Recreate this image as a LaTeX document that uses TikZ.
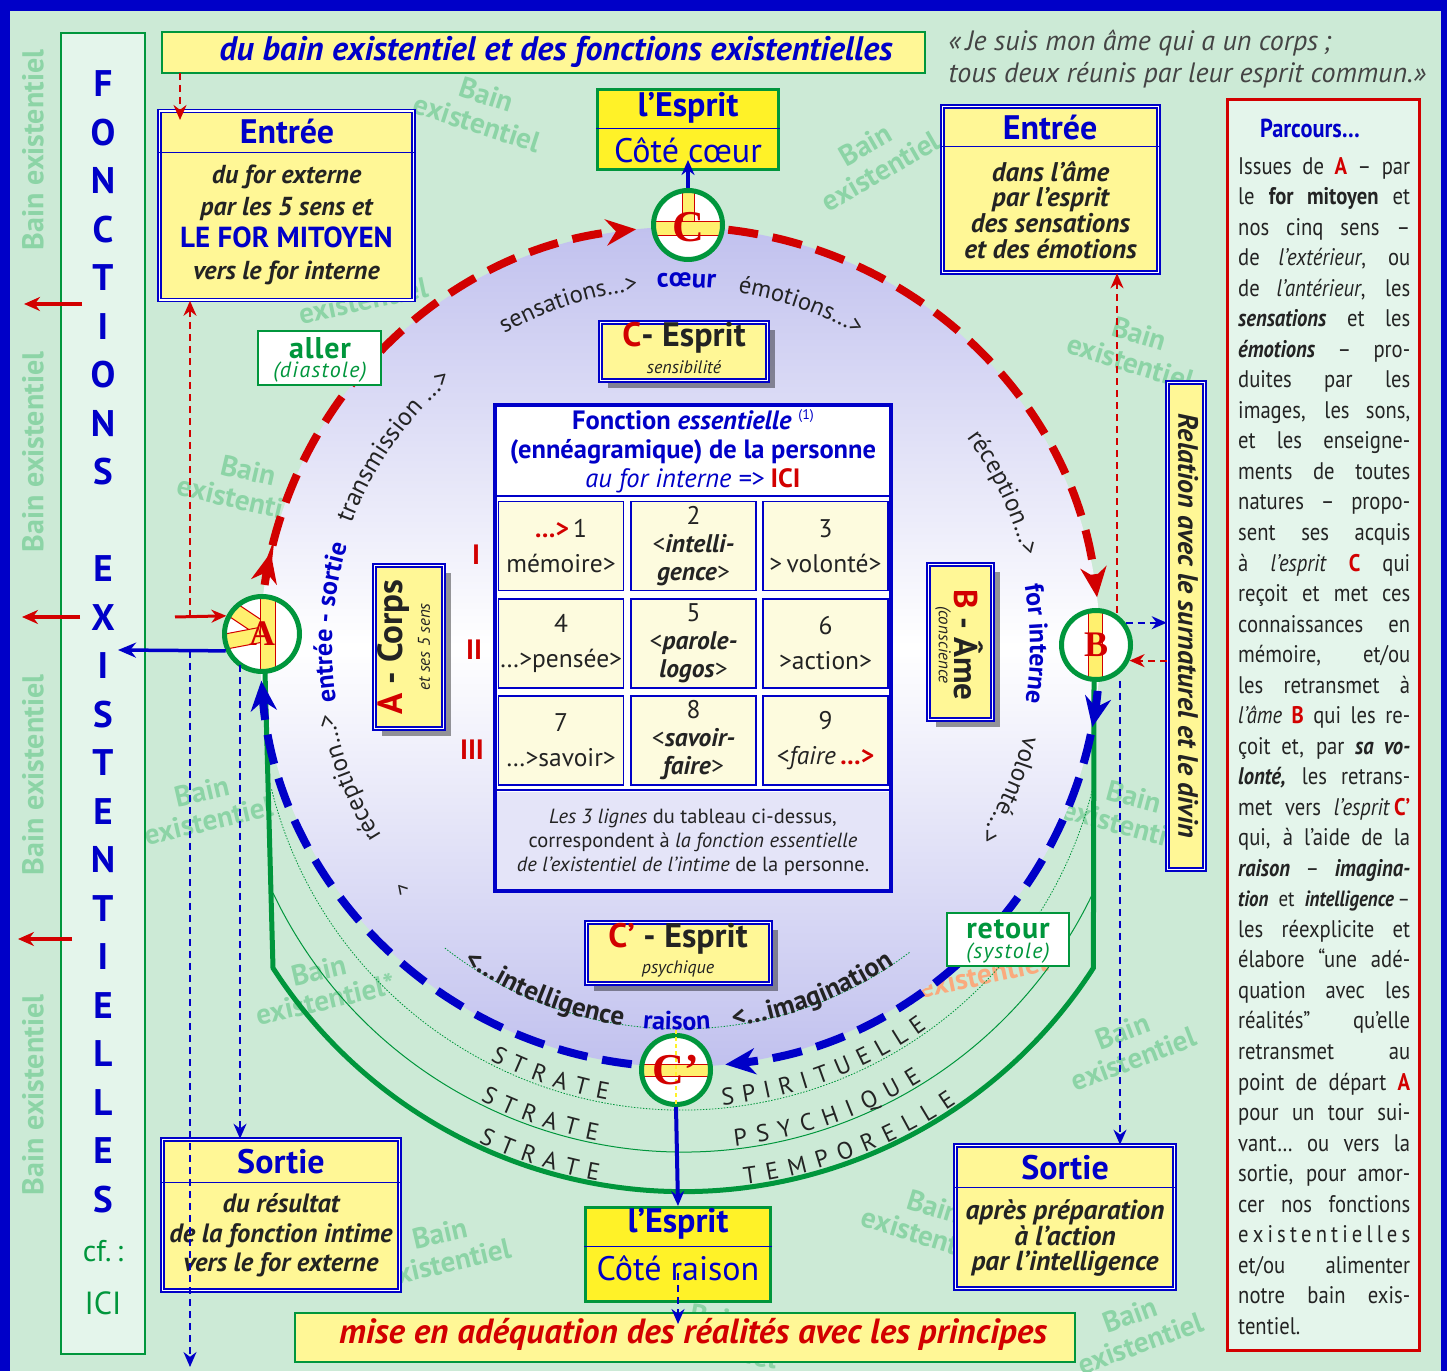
\documentclass[tikz,border=0pt]{standalone}
\usepackage{fontspec}
\setmainfont{PT Sans}
\newfontfamily\serifrouge{Liberation Serif}
\newfontfamily\etroite{PT Sans}[FakeStretch=0.86]
\usetikzlibrary{arrows.meta,calc,decorations.text,shadows}

\definecolor{bleu}{RGB}{0,0,200}
\definecolor{fond}{RGB}{204,234,214}
\definecolor{colclair}{RGB}{228,245,235}
\definecolor{jaune}{RGB}{255,247,150}
\definecolor{jaunevif}{RGB}{255,242,40}
\definecolor{jaunebarre}{RGB}{255,240,110}
\definecolor{rouge}{RGB}{210,0,0}
\definecolor{vert}{RGB}{0,150,60}
\definecolor{filig}{RGB}{140,212,166}
\definecolor{saumon}{RGB}{250,170,125}
\definecolor{lavande}{RGB}{192,192,238}
\definecolor{encre}{RGB}{35,35,35}
\definecolor{case}{RGB}{253,251,222}
\definecolor{pied}{RGB}{228,228,248}

\newcommand\fs[2]{\fontsize{#1}{#2}\selectfont}
\newcommand\pl[1]{\makebox[172pt][s]{#1}\\}

\tikzset{
  cadre/.style={draw=bleu, line width=1.6pt, double=white, double distance=1.6pt, fill=jaune, inner sep=0pt},
  esprit/.style={draw=vert, line width=3pt, fill=jaunevif, inner sep=0pt},
  etiquette/.style={draw=vert, line width=1.5pt, fill=white, inner sep=0pt},
  bandeau/.style={draw=vert, line width=1.5pt, fill=jaune, inner sep=0pt},
  ombre/.style={drop shadow={shadow xshift=7pt, shadow yshift=-8pt, opacity=.4, fill=black}},
  pole/.style={circle, draw=vert, line width=5pt, fill=white, inner sep=0pt},
  barre/.style={fill=jaunebarre, draw=rouge, line width=1pt},
  lettre/.style={text=rouge, font=\serifrouge\bfseries\fs{40}{40}},
  lettrecol/.style={text=bleu, font=\fs{37}{37}\bfseries},
  entete/.style={text=bleu, font=\fs{34}{34}\bfseries},
  corps/.style={text=encre, align=center, font=\fs{26}{32}\bfseries\itshape},
  filigrane/.style={text=filig, align=center, font=\fs{29}{30}\bfseries},
  cellule/.style={draw=bleu, line width=1.5pt, fill=case, minimum width=125, minimum height=89, inner sep=0pt},
  texcase/.style={text=encre, align=center, font=\fs{25.5}{35}},
  arcrouge/.style={draw=rouge, line width=8pt, dash pattern=on 30pt off 15pt},
  arcbleu/.style={draw=bleu, line width=8pt, dash pattern=on 30pt off 15pt},
  grossepointe/.style={-{Stealth[length=30pt,width=26pt]}},
  pointe/.style={-{Stealth[length=15pt,width=13pt]}},
  tirets/.style={line width=2pt, dash pattern=on 7pt off 5pt},
}

\begin{document}
\begin{tikzpicture}[x=1pt,y=1pt]
\useasboundingbox (0,0) rectangle (1447,1371);

% fond et cadre
\fill[fond] (0,0) rectangle (1447,1371);
\fill[bleu] (0,1360) rectangle (1447,1371);
\fill[bleu] (0,0) rectangle (10,1371);
\fill[bleu] (1441,0) rectangle (1447,1371);

% filigranes
\foreach \x/\y/\r in {482/1262/-18, 873/1213/30, 1135/1023/-17, 245/886/-13,
  205/565/13, 443/123/13, 1128/326/21, 1130/560/-15, 930/150/-17,
  1135/42/20, 715/38/-10, 360/1085/12}
  \node[filigrane, rotate=\r] at (\x,\y) {Bain\\existentiel};
\node[filigrane, rotate=13] at (322,386) {Bain\\existentiel*};
\node[filigrane, text=saumon, rotate=12] at (985,412) {Bain\\existentiel*};
\foreach \y in {1221,919,596,276}
  \node[filigrane, rotate=90, font=\fs{30}{30}\bfseries] at (33,\y) {Bain existentiel};

% colonne de gauche
\node[draw=vert, line width=2pt, fill=colclair, minimum width=84, minimum height=1321, inner sep=0pt] (colonne) at (103,677.5) {};
\foreach \l [count=\i from 0] in {F,O,N,C,T,I,O,N,S,{},E,X,I,S,T,E,N,T,I,E,L,L,E,S}
  \node[lettrecol] at (103,{1287-48.5*\i}) {\l};
\node[text=vert, font=\fs{30}{30}] (cf) at (103,120) {cf.\,:};
\node[text=vert, font=\fs{32}{32}] (ici) at (103,68) {ICI};
\foreach \y/\a/\b in {1067/82/24, 754/80/22, 432/72/18}
  \draw[rouge, line width=4pt, -{Stealth[length=16pt,width=14pt]}] (\a,\y) -- (\b,\y);

% disque central
\coordinate (ctr) at (680,724);
\begin{scope}
  \clip (ctr) circle (420);
  \shade[top color=lavande, bottom color=lavande, middle color=white] (250,300) rectangle (1110,1150);
\end{scope}

% strates
\coordinate (sp) at (682,684);
\coordinate (ps) at (683,673);
\coordinate (tp) at (683,667);
\draw[vert, line width=.8pt, dash pattern=on 1.5pt off 1.5pt] ([shift={(194:423)}]sp) arc (194:346:423);
\draw[vert, line width=1pt] ([shift={(205.4:454)}]ps) arc (205.4:334.6:454);
\draw[vert, line width=5pt] (265,699) -- (273,403) arc (212.8:327.2:488) -- (1094,689);
\path[decorate, decoration={text along path, text align=fit to path, text color=encre, text={|\fs{24}{24}|STRATE}}] ([shift={(242.8:420)}]sp) arc (242.8:259.8:420);
\path[decorate, decoration={text along path, text align=fit to path, text color=encre, text={|\fs{24}{24}|SPIRITUELLE}}] ([shift={(275.5:420)}]sp) arc (275.5:305.7:420);
\path[decorate, decoration={text along path, text align=fit to path, text color=encre, text={|\fs{24}{24}|STRATE}}] ([shift={(243.3:451)}]ps) arc (243.3:259:451);
\path[decorate, decoration={text along path, text align=fit to path, text color=encre, text={|\fs{24}{24}|PSYCHIQUE}}] ([shift={(276.6:451)}]ps) arc (276.6:302:451);
\path[decorate, decoration={text along path, text align=fit to path, text color=encre, text={|\fs{24}{24}|STRATE}}] ([shift={(245:484)}]tp) arc (245:259.9:484);
\path[decorate, decoration={text along path, text align=fit to path, text color=encre, text={|\fs{24}{24}|TEMPORELLE}}] ([shift={(277.3:484)}]tp) arc (277.3:304.4:484);

% textes le long du cercle
\draw[vert, line width=.8pt, dash pattern=on 1.5pt off 1.5pt] ([shift={(232:382)}]ctr) arc (232:307:382);
\path[decorate, decoration={text along path, text align=center, text color=encre, text={|\fs{24.5}{24}|sensations…>}}] ([shift={(128:359)}]ctr) arc (128:88:359);
\path[decorate, decoration={text along path, text align=center, text color=bleu, text={|\fs{27}{27}\bfseries|cœur}}] ([shift={(97:360)}]ctr) arc (97:81:360);
\path[decorate, decoration={text along path, text align=center, text color=encre, text={|\fs{24.5}{24}|émotions…>}}] ([shift={(90:359)}]ctr) arc (90:51:359);
\path[decorate, decoration={text along path, text align=center, text color=encre, text={|\fs{25.5}{25}|transmission …>}}] ([shift={(164:351)}]ctr) arc (164:126:351);
\path[decorate, decoration={text along path, text align=center, text color=encre, text={|\fs{25}{25}|réception…>}}] ([shift={(45:355)}]ctr) arc (45:6:355);
\path[decorate, decoration={text along path, text align=center, text color=bleu, text={|\fs{26}{26}\bfseries|for interne}}] ([shift={(20:350)}]ctr) arc (20:-19:350);
\path[decorate, decoration={text along path, text align=center, text color=encre, text={|\fs{25}{25}|volonté…>}}] ([shift={(-4:355)}]ctr) arc (-4:-43:355);
\path[decorate, decoration={text along path, text align=center, text color=encre, text={|\fs{25}{25}|réception…>}}] ([shift={(221:353)}]ctr) arc (221:182:353);
\path[decorate, decoration={text along path, text align=center, text color=bleu, text={|\fs{26}{26}\bfseries|entrée - sortie}}] ([shift={(196:348)}]ctr) arc (196:156:348);
\path[decorate, decoration={text along path, text align=center, text color=encre, text={|\fs{27}{27}\bfseries|<…intelligence}}] ([shift={(228:383)}]ctr) arc (228:269:383);
\path[decorate, decoration={text along path, text align=center, text color=bleu, text={|\fs{26}{26}\bfseries|raison}}] ([shift={(262:383)}]ctr) arc (262:277:383);
\path[decorate, decoration={text along path, text align=center, text color=encre, text={|\fs{27}{27}\bfseries|<…imagination}}] ([shift={(271:383)}]ctr) arc (271:311:383);
\node[text=encre, font=\fs{22}{22}, rotate=131] (retourmark) at ([shift={(221:368)}]ctr) {>};

% parcours du cercle
\draw[rouge, line width=8pt, grossepointe] ([shift={(171.5:420)}]ctr) arc (171.5:167:420);
\draw[arcrouge, grossepointe] ([shift={(166:420)}]ctr) arc (166:96:420);
\draw[arcrouge, grossepointe] ([shift={(83.4:420)}]ctr) arc (83.4:6.8:420);
\draw[bleu, line width=8pt, grossepointe] ([shift={(-6:420)}]ctr) arc (-6:-11:420);
\draw[arcbleu, grossepointe] ([shift={(-12:420)}]ctr) arc (-12:-83.8:420);
\draw[arcbleu, grossepointe] ([shift={(263.4:420)}]ctr) arc (263.4:184.6:420);

% tableau central
\node[draw=bleu, line width=4pt, fill=white, minimum width=396, minimum height=486, inner sep=0pt] (tableau) at (693,723) {};
\fill[pied] (497,482) rectangle (889,579);
\draw[bleu, line width=1.5pt] (tableau.west |- 0,875) -- (tableau.east |- 0,875);
\draw[bleu, line width=1.5pt] (tableau.west |- 0,581) -- (tableau.east |- 0,581);
\foreach \n/\x/\y in {1/561/825, 2/693.5/825, 3/825.5/825, 4/561/727.5, 5/693.5/727.5,
  6/825.5/727.5, 7/561/630.5, 8/693.5/630.5, 9/825.5/630.5}
  \node[cellule] (c\n) at (\x,\y) {};
\node[text=bleu, align=center, font=\fs{26.5}{29}\bfseries] (fonction) at (693,920)
  {Fonction \textit{essentielle} \raisebox{10pt}{\mdseries\fs{14}{14}(1)}\\(ennéagramique) de la personne\\{\mdseries\itshape au for interne =>} {\color{rouge}ICI}};
\node[texcase] at (c1) {\textcolor{rouge}{\textbf{…>}}\,1\\mémoire>};
\node[texcase, font=\fs{25.5}{28}] at (c2) {2\\<\textbf{\textit{intelli-}}\\\textbf{\textit{gence}}>};
\node[texcase] at (c3) {3\\>\,volonté>};
\node[texcase] at (c4) {4\\…>pensée>};
\node[texcase, font=\fs{25.5}{28}] at (c5) {5\\<\textbf{\textit{parole-}}\\\textbf{\textit{logos}}>};
\node[texcase] at (c6) {6\\>action>};
\node[texcase] at (c7) {7\\…>savoir>};
\node[texcase, font=\fs{25.5}{28}] at (c8) {8\\<\textbf{\textit{savoir-}}\\\textbf{\textit{faire}}>};
\node[texcase] at (c9) {9\\<\textit{faire}\,\textcolor{rouge}{\textbf{…>}}};
\node[text=encre, align=center, font=\fs{20.5}{24}] (piedtab) at (693,529)
  {\textit{Les 3 lignes} du tableau ci-dessus,\\correspondent à \textit{la fonction essentielle}\\\textit{de l’existentiel de l’intime} de la personne.};
\node[text=rouge, font=\fs{28}{28}\bfseries] (ligne1) at (476,816) {I};
\node[text=rouge, font=\fs{28}{28}\bfseries] (ligne2) at (474,721) {II};
\node[text=rouge, font=\fs{28}{28}\bfseries] (ligne3) at (472,621) {III};

% boites du disque
\node[cadre, ombre, minimum width=167, minimum height=58] (espritCs) at (684,1019.5) {};
\node[text=encre, font=\fs{34}{34}\bfseries] at (684,1033) {\textcolor{rouge}{C}- Esprit};
\node[text=encre, font=\fs{18}{18}\itshape] at (684,1004) {sensibilité};
\node[cadre, ombre, minimum width=184, minimum height=61] (espritCp) at (678.5,418) {};
\node[text=encre, font=\fs{34}{34}\bfseries] at (678,432) {\textcolor{rouge}{C’} - Esprit};
\node[text=encre, font=\fs{18}{18}\itshape] at (678,402) {psychique};
\node[cadre, ombre, minimum width=69, minimum height=163] (corps) at (409,724) {};
\node[rotate=90, text=encre, font=\fs{35}{35}\bfseries] at (393,724) {\textcolor{rouge}{A} - Corps};
\node[rotate=90, text=encre, font=\fs{17}{17}\itshape] at (424,724) {et ses 5 sens};
\node[cadre, ombre, minimum width=64, minimum height=155] (ame) at (960.5,729) {};
\node[rotate=-90, text=encre, font=\fs{33}{33}\bfseries] at (969,726) {\textcolor{rouge}{B} - Âme};
\node[rotate=-90, text=encre, font=\fs{17}{17}\itshape] at (943,726) {(conscience};

% bandeaux
\node[bandeau, minimum width=763, minimum height=41] (bandeauHaut) at (543.5,1318.5) {};
\node[text=bleu, font=\fs{34}{34}\bfseries\itshape] at (556,1319) {du bain existentiel et des fonctions existentielles};
\node[bandeau, minimum width=780, minimum height=49] (bandeauBas) at (685,33.5) {};
\node[text=rouge, font=\fs{35}{35}\bfseries\itshape] at (693,37) {mise en adéquation des réalités avec les principes};
\node[anchor=west, align=left, text=encre!85, font=\fs{28}{32}\itshape] (citation) at (945,1312)
  {«\,Je suis mon âme qui a un corps\,;\\tous deux réunis par leur esprit commun.»};

% entrees et sorties
\node[cadre, minimum width=254, minimum height=189] (entreeG) at (286.5,1165.5) {};
\node[entete] at (287,1239) {Entrée};
\draw[bleu, line width=1pt] (entreeG.west |- 0,1218) -- (entreeG.east |- 0,1218);
\node[corps] at (286.5,1146) {du for externe\\par les 5 sens et\\{\upshape\color{bleu}\fs{29}{32}LE FOR MITOYEN}\\vers le for interne};

\node[cadre, minimum width=216, minimum height=166] (entreeD) at (1050.5,1181.5) {};
\node[entete] at (1050,1243) {Entrée};
\draw[bleu, line width=1pt] (entreeD.west |- 0,1224) -- (entreeD.east |- 0,1224);
\node[corps, font=\fs{27}{25.7}\bfseries\itshape] at (1050.5,1161) {dans l’âme\\par l’esprit\\des sensations\\et des émotions};

\node[cadre, minimum width=237, minimum height=151] (sortieG) at (281,156) {};
\node[entete] at (281,209) {Sortie};
\draw[bleu, line width=1pt] (sortieG.west |- 0,189) -- (sortieG.east |- 0,189);
\node[corps, font=\fs{26.5}{29.5}\bfseries\itshape] at (281,135.5) {du résultat\\de la fonction intime\\vers le for externe};

\node[cadre, minimum width=219, minimum height=143] (sortieD) at (1065,154) {};
\node[entete] at (1065,203) {Sortie};
\draw[bleu, line width=1pt] (sortieD.west |- 0,184) -- (sortieD.east |- 0,184);
\node[corps, font=\fs{27.5}{25}\bfseries\itshape] at (1065,133) {après préparation\\à l’action\\par l’intelligence};

% l'esprit
\node[esprit, minimum width=181, minimum height=80] (espritC) at (688,1241.5) {};
\draw[bleu, line width=1pt] (espritC.west |- 0,1242) -- (espritC.east |- 0,1242);
\node[entete] at (688,1263) {l’Esprit};
\node[text=bleu, font=\fs{34}{34}] at (688,1221) {Côté cœur};
\node[esprit, minimum width=185, minimum height=94] (espritR) at (678,116.5) {};
\draw[bleu, line width=1pt] (espritR.west |- 0,125) -- (espritR.east |- 0,125);
\node[entete] at (678,147) {l’Esprit};
\node[text=bleu, font=\fs{34}{34}] at (678,103) {Côté raison};

% aller / retour
\node[etiquette, minimum width=123, minimum height=54] (aller) at (319.5,1013) {};
\node[text=vert, font=\fs{30}{30}\bfseries\addfontfeature{LetterSpace=3}] at (320,1023) {aller};
\node[text=vert, font=\fs{22}{22}\itshape\addfontfeature{LetterSpace=6}] at (320,999) {(diastole)};
\node[etiquette, minimum width=122, minimum height=53] (retour) at (1008,431.5) {};
\node[text=vert, font=\fs{30}{30}\bfseries\addfontfeature{LetterSpace=3}] at (1008,442) {retour};
\node[text=vert, font=\fs{22}{22}\itshape\addfontfeature{LetterSpace=6}] at (1008,418) {(systole)};

% relation et parcours
\node[cadre, minimum width=37, minimum height=487] (relation) at (1186,745) {};
\node[rotate=-90, text=encre, font=\fs{28}{28}\bfseries\itshape] at (1188,745) {Relation avec le surnaturel et le divin};
\node[draw=rouge, line width=3pt, fill=colclair, minimum width=192, minimum height=1251, inner sep=0pt] (parcours) at (1323.5,646) {};
\node[text=bleu, font=\etroite\fs{26}{26}\bfseries] at (1310,1243) {Parcours…};
\node[anchor=north west, align=left, inner sep=0pt, text=encre, font=\etroite\fs{24}{30.53}] (parcoursTexte) at (1238,1214) {%
\pl{Issues de \textcolor{rouge}{\textbf{A}} – par}
\pl{le \textbf{for mitoyen} et}
\pl{nos cinq sens –}
\pl{de \textit{l’extérieur}, ou}
\pl{de \textit{l’antérieur}, les}
\pl{\textbf{\textit{sensations}} et les}
\pl{\textbf{\textit{émotions}} – pro-}
\pl{duites par les}
\pl{images, les sons,}
\pl{et les enseigne-}
\pl{ments de toutes}
\pl{natures – propo-}
\pl{sent ses acquis}
\pl{à \textit{l’esprit} \textcolor{rouge}{\textbf{C}} qui}
\pl{reçoit et met ces}
\pl{connaissances en}
\pl{mémoire, et/ou}
\pl{les retransmet à}
\pl{\textit{l’âme} \textcolor{rouge}{\textbf{B}} qui les re-}
\pl{çoit et, par \textbf{\textit{sa vo-}}}
\pl{\textbf{\textit{lonté,}} les retrans-}
\pl{met vers \textit{l’esprit}\,\textcolor{rouge}{\textbf{C’}}}
\pl{qui, à l’aide de la}
\pl{\textbf{\textit{raison}} – \textbf{\textit{imagina-}}}
\pl{\fs{22}{30.53}\textbf{\textit{tion}} et \textbf{\textit{intelligence}}\,–}
\pl{les réexplicite et}
\pl{élabore “une adé-}
\pl{quation avec les}
\pl{réalités” qu’elle}
\pl{retransmet au}
\pl{point de départ \textcolor{rouge}{\textbf{A}}}
\pl{pour un tour sui-}
\pl{vant… ou vers la}
\pl{sortie, pour amor-}
\pl{cer nos fonctions}
\pl{e x i s t e n t i e l l e s}
\pl{et/ou alimenter}
\pl{notre bain exis-}
tentiel.};

% pôles
\node[pole, minimum size=75, path picture={
  \begin{scope}[shift={(path picture bounding box.center)}]
    \filldraw[barre] (-40.3,40.5) -- (-48.7,28.1) -- (-3.2,-2.2) -- (5.2,10.2) -- cycle;
    \filldraw[barre] (-50.2,-2.5) -- (-47.4,-17.3) -- (-0.6,-8.4) -- (-3.4,6.4) -- cycle;
    \filldraw[barre] (-2,-40) rectangle (13,40);
  \end{scope}}] (A) at (262,737) {};
\node[lettre, font=\serifrouge\bfseries\fs{36}{36}] at (A) {A};
\node[pole, minimum size=69, path picture={
  \begin{scope}[shift={(path picture bounding box.center)}]
    \filldraw[barre] (-6,-11) rectangle (6,40);
    \filldraw[barre] (-36,-11) rectangle (36,3);
  \end{scope}}] (C) at (688,1146) {};
\node[lettre, font=\serifrouge\bfseries\fs{44}{44}] at ([yshift=-2]C.center) {C};
\node[pole, minimum size=69, path picture={
  \begin{scope}[shift={(path picture bounding box.center)}]
    \filldraw[barre] (-8,-40) rectangle (6,40);
  \end{scope}}] (B) at (1096,726) {};
\node[lettre, font=\serifrouge\bfseries\fs{36}{36}] at (B) {B};
\node[pole, minimum size=69, path picture={
  \begin{scope}[shift={(path picture bounding box.center)}]
    \filldraw[barre] (-36,-6) rectangle (36,6);
  \end{scope}}] (Cp) at (676,301) {};
\draw[jaunevif, line width=1.5pt, dash pattern=on 4pt off 3pt] ([yshift=40]Cp.center) -- ([yshift=-36]Cp.center);
\node[lettre, font=\serifrouge\bfseries\fs{44}{44}] at (Cp) {C’};

% liaisons
\draw[bleu, line width=4pt, pointe] (C.north) -- ([yshift=11]espritC.south);
\draw[bleu, line width=4pt, pointe] (Cp.south) -- (espritR.north);
\coordinate (finR) at (espritR.south |- 0,47);
\draw[bleu, tirets, pointe] ([yshift=30]espritR.south) -- (finR);
\coordinate (depart) at (180,1298);
\draw[rouge, tirets, pointe] (depart) -- (depart |- 0,1251);
\coordinate (gA) at (190,754);
\draw[rouge, tirets, pointe] (gA) -- (gA |- entreeG.south);
\draw[rouge, line width=3pt, pointe] (175,754) -- (A.153);
\coordinate (sortieA) at (118,721);
\draw[bleu, line width=3.5pt, -{Stealth[length=18pt,width=15pt]}] (A.205) -- (sortieA);
\draw[bleu, tirets, pointe] (190,720) -- (190,4);
\draw[bleu, tirets, pointe] (240,706) -- (240,706 |- sortieG.north);
\draw[rouge, tirets, pointe] (1117,758) -- (1117,758 |- entreeD.south);
\draw[bleu, tirets, pointe] (B.37) -- (B.37 -| relation.west);
\draw[rouge, tirets, pointe] (B.-25 -| relation.west) -- (B.-25);
\draw[bleu, tirets, pointe] (1120,690) -- (1120,690 |- sortieD.north);
\end{tikzpicture}
\end{document}
